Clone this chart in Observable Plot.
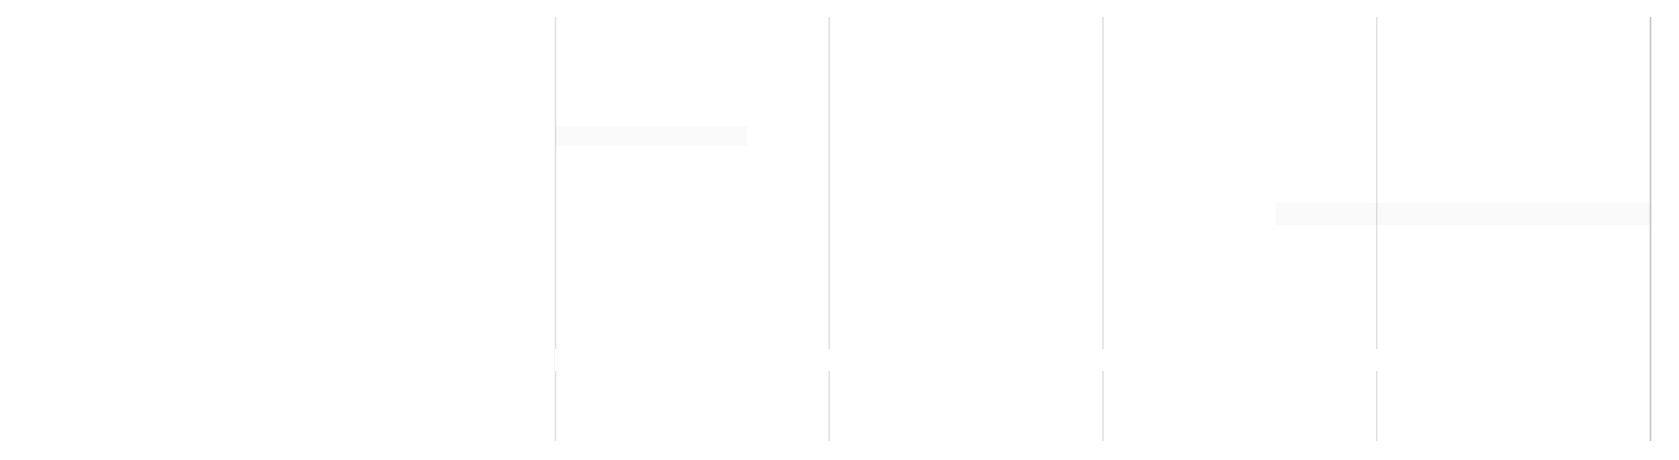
<!DOCTYPE html>
<html>
<head>
<meta charset="utf-8">
<script src="https://cdn.jsdelivr.net/npm/d3@7"></script>
<script src="https://cdn.jsdelivr.net/npm/@observablehq/plot@0.6"></script>
<style>
  html, body { margin: 0; padding: 0; background: #ffffff; }
  #chart svg { display: block; }
</style>
</head>
<body>
<div id="chart"></div>
<script>
// Data
const tasks = ["Task A", "Task B"];
const starts = [0, 65.8];
const ends = [17.5, 100];
const rowTop = [4.11, 7.02];
const rowBottom = [4.87, 7.85];
const xTicks = [0, 25, 50, 75, 100];
const sectionBand = [{x1: 0, x2: 90, y1: 12.53, y2: 13.36}];

const bars = tasks.map((t, i) => ({task: t, start: starts[i], end: ends[i], top: rowTop[i], bottom: rowBottom[i]}));

const chart = Plot.plot({
  width: 1679,
  height: 460,
  marginLeft: 555,
  marginRight: 29,
  marginTop: 17,
  marginBottom: 19,
  style: {background: "#ffffff"},
  x: {domain: [0, 100], axis: null},
  y: {domain: [0, 16], reverse: true, axis: null},
  marks: [
    Plot.rect(bars, {x1: "start", x2: "end", y1: "top", y2: "bottom", fill: "#fafafa"}),
    Plot.ruleX(xTicks, {stroke: "#000", strokeOpacity: 0.12, strokeWidth: 1.6}),
    Plot.rect(sectionBand, {x1: "x1", x2: "x2", y1: "y1", y2: "y2", fill: "#ffffff"}),
    Plot.ruleX(xTicks.slice(-1), {stroke: "#000", strokeOpacity: 0.12, strokeWidth: 1.6})
  ]
});
document.getElementById("chart").appendChild(chart);
</script>
</body>
</html>
